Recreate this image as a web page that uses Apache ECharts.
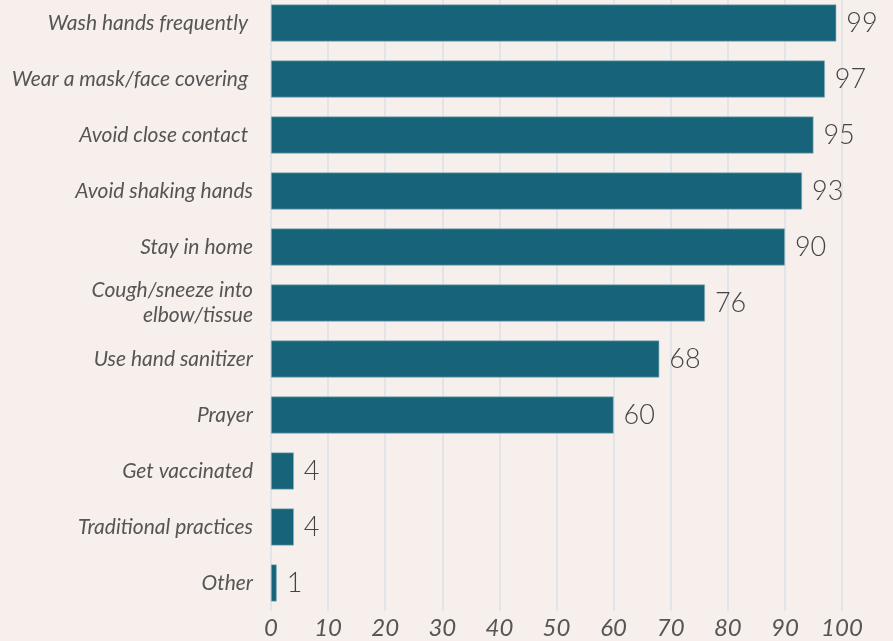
<!DOCTYPE html>
<html><head><meta charset="utf-8">
<script src="https://cdn.jsdelivr.net/npm/echarts@6/dist/echarts.min.js"></script>
<style>html,body{margin:0;padding:0;background:#f6efec;overflow:hidden;}#c{width:893px;height:646px;margin-top:-5px;}</style>
</head><body><div id="c"></div>
<script>
const categories = ["Wash hands frequently ", "Wear a mask/face covering ", "Avoid close contact ", "Avoid shaking hands", "Stay in home", "Cough/sneeze into\nelbow/tissue", "Use hand sanitizer", "Prayer", "Get vaccinated", "Traditional practices", "Other"];
const values = [99, 97, 95, 93, 90, 76, 68, 60, 4, 4, 1];
const xTicks = [0, 10, 20, 30, 40, 50, 60, 70, 80, 90, 100];

const chart = echarts.init(document.getElementById('c'));
chart.setOption({
  backgroundColor: '#f6efec',
  animation: false,
  grid: { left: 271, right: 51, top: 0, bottom: 30, containLabel: false },
  xAxis: {
    type: 'value', min: xTicks[0], max: xTicks[xTicks.length - 1], interval: 10,
    axisLine: { show: false }, axisTick: { show: false },
    splitLine: { show: true, lineStyle: { color: '#e2e4e7', width: 2 } },
    axisLabel: { fontFamily: 'Lato', fontStyle: 'italic', fontSize: 24, color: '#555', margin: 5 }
  },
  yAxis: {
    type: 'category', data: categories, inverse: true,
    axisLine: { show: false }, axisTick: { show: false },
    axisLabel: { fontFamily: 'Lato', fontStyle: 'italic', fontSize: 21, color: '#555', margin: 18, lineHeight: 25, align: 'right' }
  },
  series: [{
    type: 'bar', data: values, barWidth: 37,
    itemStyle: { color: '#17647a', borderColor: '#8fb3bd', borderWidth: 0.6 },
    label: { show: true, position: 'right', distance: 10, fontFamily: 'Lato', fontWeight: 300, fontSize: 27, color: '#444' }
  }]
});
</script></body></html>
